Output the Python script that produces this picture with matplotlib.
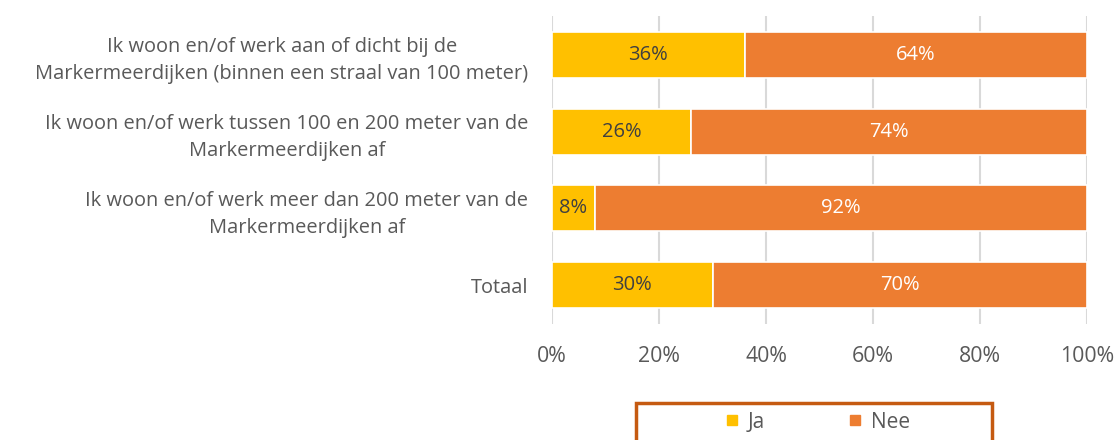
import matplotlib.pyplot as plt
from matplotlib.lines import Line2D
from matplotlib.patches import Rectangle

categories = [
    "Ik woon en/of werk aan of dicht bij de\nMarkermeerdijken (binnen een straal van 100 meter)",
    "Ik woon en/of werk tussen 100 en 200 meter van de\nMarkermeerdijken af",
    "Ik woon en/of werk meer dan 200 meter van de\nMarkermeerdijken af",
    "Totaal",
]
ja = [36, 26, 8, 30]
nee = [64, 74, 92, 70]
series = ["Ja", "Nee"]
ticks = [0, 20, 40, 60, 80, 100]

YELLOW = "#FFC000"
ORANGE = "#ED7D31"
GREY = "#595959"

plt.rcParams["font.family"] = ["Open Sans", "DejaVu Sans"]

fig = plt.figure(figsize=(11.17, 4.4), dpi=100)
ax = fig.add_axes([552 / 1117, 1 - 323.5 / 440, 535 / 1117, 307 / 440])

y = list(range(len(categories)))
ax.barh(y, ja, height=0.6, color=YELLOW, edgecolor="white", linewidth=1.2, label=series[0])
ax.barh(y, nee, left=ja, height=0.6, color=ORANGE, edgecolor="white", linewidth=1.2, label=series[1])

for i in y:
    ax.text(ja[i] / 2, i, f"{ja[i]}%", ha="center", va="center", fontsize=14.5, color="#404040")
    ax.text(ja[i] + nee[i] / 2, i, f"{nee[i]}%", ha="center", va="center", fontsize=14.5, color="white")

ax.set_xlim(0, 100)
ax.set_ylim(len(categories) - 0.5, -0.5)
ax.set_xticks(ticks)
ax.set_xticklabels([f"{t}%" for t in ticks])
ax.set_yticks(y)
ax.set_yticklabels(categories, multialignment="center", linespacing=1.45)
ax.tick_params(axis="x", length=0, pad=16, labelsize=15.3, labelcolor=GREY)
ax.tick_params(axis="y", length=0, pad=17, labelsize=14.4, labelcolor=GREY)
ax.xaxis.grid(True, color="#D9D9D9", linewidth=1.5)
ax.set_axisbelow(True)
for s in ax.spines.values():
    s.set_visible(False)

# legend box cut off at the bottom edge
fig.patches.append(Rectangle((636 / 1117, -0.05), 356 / 1117, (440 - 403) / 440 + 0.05,
                             fill=False, edgecolor="#C55A11", linewidth=2.5,
                             transform=fig.transFigure, figure=fig))
handles = [Line2D([], [], marker="s", linestyle="", markersize=7, color=c) for c in (YELLOW, ORANGE)]
leg = fig.legend(handles, series, loc="center", bbox_to_anchor=(817 / 1117, 1 - 422 / 440),
                 ncol=2, frameon=False, fontsize=15, handlelength=0.7, handletextpad=0.4,
                 columnspacing=4.0)
for t in leg.get_texts():
    t.set_color(GREY)

fig.savefig("out.png", dpi=100)
